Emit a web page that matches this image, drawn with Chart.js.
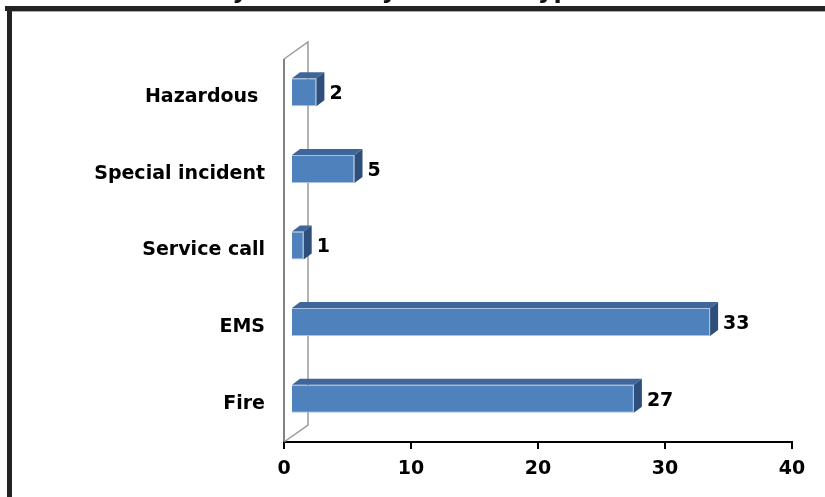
<!DOCTYPE html>
<html>
<head>
<meta charset="utf-8">
<script src="https://cdn.jsdelivr.net/npm/chart.js@4.4.1/dist/chart.umd.min.js"></script>
<style>
  html, body { margin: 0; padding: 0; background: #fff; }
  #wrap { width: 825px; height: 497px; position: relative; }
</style>
</head>
<body>
<div id="wrap"><canvas id="incidentChart"></canvas></div>
<script>
// datos del grafico
const chartTitle = 'Calls by District by Incident Type';
const categories = ['Hazardous ', 'Special incident', 'Service call', 'EMS', 'Fire'];
const incidentCounts = [2, 5, 1, 33, 27];
const xTicks = [0, 10, 20, 30, 40];

const FONT = '"DejaVu Sans", Arial, sans-serif';

// caja 3D: profundidad del piso y de cada barra
const DEPTH_X = 24, DEPTH_Y = -17;
const BAR_OFF_X = 7, BAR_OFF_Y = -5;
const BAR_DX = 8, BAR_DY = -6;

const frame3d = {
    id: 'frame3d',
    beforeDraw(chart) {
        const ctx = chart.ctx;
        ctx.save();
        ctx.fillStyle = '#fff';
        ctx.fillRect(0, 0, chart.width, chart.height);

        // titulo, casi todo fuera de la imagen
        ctx.font = 'bold 24px ' + FONT;
        ctx.fillStyle = '#111';
        ctx.textAlign = 'left';
        ctx.textBaseline = 'alphabetic';
        const pre = ctx.measureText('Calls b').width + ctx.measureText('y').width / 2;
        ctx.fillText(chartTitle, 240 - pre, -2);

        // marco negro
        ctx.fillStyle = '#222';
        ctx.fillRect(5, 6, chart.width - 5, 5);
        ctx.fillRect(7, 6, 5, chart.height - 6);
        ctx.fillStyle = '#aaa';
        ctx.fillRect(12, 11, chart.width - 12, 1);
        ctx.restore();
    },
    beforeDatasetsDraw(chart) {
        const ctx = chart.ctx;
        const a = chart.chartArea;
        ctx.save();
        // pared del fondo
        ctx.strokeStyle = '#9a9a9a';
        ctx.lineWidth = 1.5;
        ctx.beginPath();
        ctx.moveTo(a.left, a.top);
        ctx.lineTo(a.left + DEPTH_X, a.top + DEPTH_Y);
        ctx.lineTo(a.left + DEPTH_X, a.bottom + DEPTH_Y);
        ctx.lineTo(a.left, a.bottom);
        ctx.stroke();
        // eje vertical frontal
        ctx.strokeStyle = '#5a5a5a';
        ctx.beginPath();
        ctx.moveTo(a.left, a.top);
        ctx.lineTo(a.left, a.bottom);
        ctx.stroke();
        ctx.restore();

        // las caras frontales se dibujan desplazadas dentro de la caja
        ctx.save();
        ctx.translate(BAR_OFF_X, BAR_OFF_Y);
    },
    afterDatasetsDraw(chart) {
        const ctx = chart.ctx;
        ctx.restore();
        ctx.save();
        const meta = chart.getDatasetMeta(0);
        meta.data.forEach((bar, i) => {
            const p = bar.getProps(['x', 'y', 'base', 'height'], true);
            const x0 = p.base + BAR_OFF_X;
            const x1 = p.x + BAR_OFF_X;
            const top = p.y - p.height / 2 + BAR_OFF_Y;
            const bottom = p.y + p.height / 2 + BAR_OFF_Y;

            // cara superior
            ctx.fillStyle = '#3f6699';
            ctx.beginPath();
            ctx.moveTo(x0, top);
            ctx.lineTo(x1, top);
            ctx.lineTo(x1 + BAR_DX, top + BAR_DY);
            ctx.lineTo(x0 + BAR_DX, top + BAR_DY);
            ctx.closePath();
            ctx.fill();

            // cara lateral
            ctx.fillStyle = '#2e4f7c';
            ctx.beginPath();
            ctx.moveTo(x1, top);
            ctx.lineTo(x1 + BAR_DX, top + BAR_DY);
            ctx.lineTo(x1 + BAR_DX, bottom + BAR_DY);
            ctx.lineTo(x1, bottom);
            ctx.closePath();
            ctx.fill();

            // etiqueta de valor
            ctx.font = 'bold 19px ' + FONT;
            ctx.fillStyle = '#000';
            ctx.textAlign = 'left';
            ctx.textBaseline = 'middle';
            ctx.fillText(String(incidentCounts[i]), x1 + BAR_DX + 5, p.y + BAR_OFF_Y + 2);
        });
        ctx.restore();
    }
};

const ctx = document.getElementById('incidentChart').getContext('2d');
new Chart(ctx, {
    type: 'bar',
    data: {
        labels: categories,
        datasets: [{
            data: incidentCounts,
            backgroundColor: '#4f81bd',
            borderColor: '#a9c2e2',
            borderWidth: 1,
            barPercentage: 0.366,
            categoryPercentage: 1,
            clip: false
        }]
    },
    options: {
        indexAxis: 'y',
        responsive: true,
        maintainAspectRatio: false,
        animation: false,
        layout: { padding: { top: 59, right: 33, left: 0, bottom: 0 } },
        scales: {
            x: {
                min: 0,
                max: 40,
                afterBuildTicks: s => { s.ticks = xTicks.map(v => ({ value: v })); },
                afterFit: s => { s.height = 55; },
                grid: { drawOnChartArea: false, drawTicks: true, tickLength: 7, color: '#000', lineWidth: 2 },
                border: { display: true, color: '#000', width: 2 },
                ticks: { font: { family: FONT, size: 19, weight: 'bold' }, color: '#000', padding: 9, maxRotation: 0 }
            },
            y: {
                afterFit: s => { s.width = 284; },
                grid: { display: false },
                border: { display: false },
                ticks: { font: { family: FONT, size: 19, weight: 'bold' }, color: '#000', padding: 11 }
            }
        },
        plugins: {
            legend: { display: false },
            tooltip: { enabled: false }
        }
    },
    plugins: [frame3d]
});
</script>
</body>
</html>
